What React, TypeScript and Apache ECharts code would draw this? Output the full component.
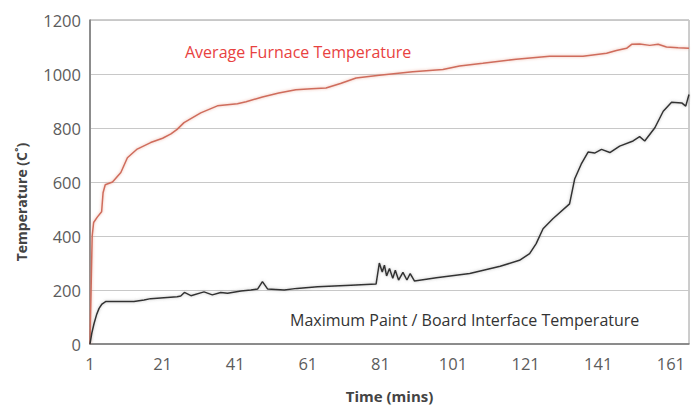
import React, { useEffect, useRef } from "react";
import * as echarts from "echarts";

const furnaceTime = [1, 1.3, 1.6, 2.0, 3.0, 4.2, 4.6, 5.2, 7.2, 9.5, 11.3, 14, 17.7, 21, 23.3, 25, 26.9, 31.5, 36.1, 41.6, 44, 48.5, 53, 57.7, 62, 66, 70, 74.3, 80.7, 89.9, 98.2, 102.8, 109.2, 118.4, 127.6, 136.8, 143.3, 146, 148.8, 150.2, 152.4, 155.2, 157.5, 159.8, 163, 166];
const furnaceTemp = [0, 200, 400, 450, 470, 490, 560, 590, 600, 635, 690, 722, 746, 762, 778, 795, 820, 856, 882, 890, 897, 915, 930, 942, 945, 948, 965, 985, 995, 1008, 1017, 1030, 1040, 1055, 1066, 1066, 1077, 1087, 1095, 1110, 1111, 1106, 1110, 1100, 1097, 1095];

const paintTime = [1, 1.5, 2.1, 2.8, 3.5, 4.3, 5.3, 13.1, 15.9, 17.7, 25, 26, 27, 28.8, 32.4, 34.7, 37, 38.9, 42.6, 45.3, 47.2, 48.5, 49.9, 54.5, 58, 63.7, 72.9, 79.8, 80.7, 81.5, 82.1, 82.7, 83.5, 84.4, 85.1, 86, 87.2, 88.3, 89.2, 90.4, 96.4, 105.6, 114, 119.3, 122.1, 123.9, 125.8, 128.5, 133.1, 134.5, 136.3, 138.2, 140, 141.9, 144.2, 146.9, 150.6, 152.4, 153.8, 156.6, 158.9, 161.2, 164, 165.1, 166];
const paintTemp = [0, 40, 75, 108, 132, 148, 157, 157, 163, 168, 175, 178, 191, 179, 193, 182, 191, 188, 196, 200, 204, 231, 204, 200, 206, 212, 218, 222, 300, 267, 292, 252, 280, 243, 273, 237, 265, 237, 261, 233, 245, 261, 288, 310, 335, 372, 427, 464, 519, 611, 666, 711, 707, 721, 709, 733, 752, 768, 752, 801, 862, 895, 893, 881, 924];

const xTicks = [1, 21, 41, 61, 81, 101, 121, 141, 161];

const FONT = "'Open Sans', sans-serif";

export default function App() {
  const ref = useRef<HTMLDivElement>(null);
  useEffect(() => {
    document.body.style.margin = "0";
    if (!ref.current) return;
    const chart = echarts.init(ref.current, null, { renderer: "svg" });
    chart.setOption({
      animation: false,
      grid: {
        left: 90,
        right: 5,
        top: 20,
        bottom: 62,
        show: true,
        borderColor: "#9a9a9a",
        borderWidth: 1,
      },
      xAxis: {
        type: "value",
        min: 1,
        max: 166,
        name: "Time (mins)",
        nameLocation: "middle",
        nameGap: 44,
        nameTextStyle: { fontFamily: FONT, fontSize: 15, fontWeight: "bold", color: "#444" },
        axisLine: { show: true, lineStyle: { color: "#777", width: 1.5 } },
        axisTick: { show: false, customValues: xTicks },
        splitLine: { show: false },
        axisLabel: {
          customValues: xTicks,
          fontFamily: FONT,
          fontSize: 16.5,
          color: "#5c5c5c",
          margin: 11,
        },
      },
      yAxis: {
        type: "value",
        min: 0,
        max: 1200,
        interval: 200,
        axisLine: { show: true, lineStyle: { color: "#777", width: 1.5 } },
        axisTick: { show: false },
        splitLine: { show: true, lineStyle: { color: "#c8c8c8", width: 1 } },
        axisLabel: {
          fontFamily: FONT,
          fontSize: 16.5,
          color: "#5c5c5c",
          margin: 9,
          formatter: (v: number) => String(v),
        },
      },
      series: [
        {
          type: "line",
          name: "Average Furnace Temperature",
          data: furnaceTime.map((t, i) => [t, furnaceTemp[i]]),
          showSymbol: false,
          symbol: "none",
          lineStyle: {
            color: "#cf6c5c",
            width: 1.5,
            shadowColor: "rgba(230,150,130,0.7)",
            shadowBlur: 3,
          },
          z: 3,
        },
        {
          type: "line",
          name: "Maximum Paint / Board Interface Temperature",
          data: paintTime.map((t, i) => [t, paintTemp[i]]),
          showSymbol: false,
          symbol: "none",
          lineStyle: {
            color: "#333",
            width: 1.5,
            shadowColor: "rgba(120,120,120,0.5)",
            shadowBlur: 3,
          },
          z: 3,
        },
      ],
      graphic: [
        {
          type: "text",
          x: 21,
          y: 202,
          rotation: Math.PI / 2,
          style: {
            text: "Temperature (C˚)",
            fill: "#444",
            font: `bold 14px ${FONT}`,
            align: "center",
            verticalAlign: "middle",
          },
        },
        {
          type: "text",
          x: 185,
          y: 52,
          style: {
            text: "Average Furnace Temperature",
            fill: "#e8423f",
            font: `16px ${FONT}`,
            verticalAlign: "middle",
          },
        },
        {
          type: "text",
          x: 290,
          y: 320,
          style: {
            text: "Maximum Paint / Board Interface Temperature",
            fill: "#333",
            font: `16px ${FONT}`,
            verticalAlign: "middle",
          },
        },
      ],
    });
    return () => chart.dispose();
  }, []);
  return <div ref={ref} style={{ width: 694, height: 408 }} />;
}
